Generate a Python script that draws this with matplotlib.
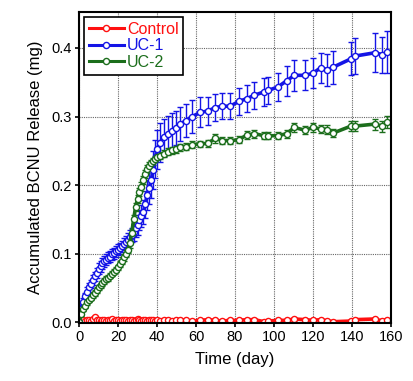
import matplotlib
matplotlib.use("Agg")
import matplotlib.pyplot as plt
from matplotlib.lines import Line2D

plt.rcParams['font.family'] = ['Liberation Sans', 'DejaVu Sans']

# sampling times (day)
days = [0, 1, 2, 3, 4, 5, 6, 7, 8, 9, 10, 11, 12, 13, 14, 15, 16, 17, 18, 19,
        20, 21, 22, 23, 24, 25, 26, 27, 28, 29, 30, 31, 32, 33, 34, 35, 36, 37,
        38, 39, 40, 41.5, 43.5, 45.5, 47.5, 49.6, 52, 54.7, 58, 62.3, 66, 70,
        73.5, 77.5, 82, 86, 90, 95, 97, 102, 106.5, 110.5, 116, 120, 124, 127.5,
        130.5, 139.5, 141.5, 152, 155.5, 158]

control = [0.0, 0.002, 0.003, 0.002, 0.004, 0.003, 0.002, 0.005, 0.008, 0.004,
           0.003, 0.002, 0.004, 0.003, 0.002, 0.004, 0.003, 0.005, 0.002, 0.003,
           0.004, 0.002, 0.003, 0.004, 0.003, 0.002, 0.004, 0.003, 0.002, 0.004,
           0.005, 0.003, 0.002, 0.003, 0.004, 0.002, 0.003, 0.004, 0.003, 0.002,
           0.003, 0.002, 0.004, 0.003, 0.002, 0.003, 0.004, 0.003, 0.002, 0.003,
           0.004, 0.003, 0.002, 0.003, 0.003, 0.004, 0.004, 0.001, 0.002, 0.003,
           0.003, 0.005, 0.004, 0.003, 0.004, 0.002, 0.001, 0.002, 0.004, 0.005,
           0.002, 0.004]
control_err = [0.001] * len(days)

uc1 = [0.0, 0.02, 0.03, 0.038, 0.045, 0.051, 0.056, 0.062, 0.067, 0.072,
       0.078, 0.082, 0.086, 0.089, 0.091, 0.094, 0.096, 0.099, 0.101, 0.104,
       0.106, 0.108, 0.111, 0.114, 0.117, 0.120, 0.124, 0.127, 0.131, 0.137,
       0.142, 0.149, 0.155, 0.161, 0.172, 0.186, 0.196, 0.207, 0.222, 0.238,
       0.252, 0.262, 0.270, 0.275, 0.279, 0.283, 0.289, 0.294, 0.300, 0.306,
       0.308, 0.313, 0.315, 0.315, 0.322, 0.326, 0.331, 0.336, 0.338, 0.343,
       0.352, 0.360, 0.360, 0.363, 0.371, 0.368, 0.372, 0.384, 0.388, 0.393,
       0.390, 0.394]
uc1_err = [0.002, 0.004, 0.005, 0.005, 0.006, 0.006, 0.006, 0.007, 0.007, 0.007,
           0.008, 0.008, 0.008, 0.008, 0.008, 0.008, 0.008, 0.008, 0.008, 0.008,
           0.008, 0.008, 0.008, 0.009, 0.009, 0.010, 0.010, 0.010, 0.012, 0.012,
           0.014, 0.015, 0.016, 0.018, 0.020, 0.022, 0.024, 0.026, 0.028, 0.028,
           0.028, 0.028, 0.027, 0.026, 0.026, 0.025, 0.025, 0.024, 0.024, 0.022,
           0.020, 0.020, 0.019, 0.019, 0.020, 0.020, 0.020, 0.020, 0.020, 0.021,
           0.022, 0.023, 0.022, 0.022, 0.022, 0.023, 0.024, 0.024, 0.026, 0.028,
           0.026, 0.030]

uc2 = [0.0, 0.012, 0.019, 0.024, 0.029, 0.033, 0.036, 0.040, 0.043, 0.047,
       0.051, 0.054, 0.057, 0.060, 0.063, 0.065, 0.068, 0.071, 0.074, 0.077,
       0.080, 0.085, 0.090, 0.095, 0.100, 0.106, 0.115, 0.130, 0.150, 0.168,
       0.180, 0.190, 0.198, 0.208, 0.216, 0.223, 0.228, 0.232, 0.235, 0.238,
       0.241, 0.243, 0.246, 0.249, 0.251, 0.252, 0.255, 0.256, 0.259, 0.260,
       0.261, 0.268, 0.265, 0.265, 0.266, 0.273, 0.275, 0.272, 0.272, 0.272,
       0.275, 0.284, 0.280, 0.284, 0.282, 0.281, 0.276, 0.286, 0.286, 0.289,
       0.286, 0.292]
uc2_err = [0.002, 0.003, 0.003, 0.003, 0.003, 0.003, 0.003, 0.004, 0.004, 0.004,
           0.004, 0.004, 0.004, 0.004, 0.004, 0.004, 0.004, 0.004, 0.004, 0.004,
           0.004, 0.005, 0.005, 0.005, 0.005, 0.005, 0.006, 0.006, 0.006, 0.006,
           0.006, 0.006, 0.006, 0.006, 0.006, 0.006, 0.006, 0.005, 0.005, 0.005,
           0.005, 0.005, 0.005, 0.005, 0.005, 0.005, 0.005, 0.005, 0.005, 0.005,
           0.005, 0.006, 0.005, 0.005, 0.005, 0.006, 0.006, 0.005, 0.005, 0.005,
           0.006, 0.006, 0.006, 0.006, 0.006, 0.006, 0.006, 0.007, 0.007, 0.008,
           0.008, 0.009]

series = [
    ("Control", control, control_err, "#ff1010"),
    ("UC-1", uc1, uc1_err, "#1414e6"),
    ("UC-2", uc2, uc2_err, "#1c6e1c"),
]

fig = plt.figure(figsize=(4.14, 3.81), dpi=100)
ax = fig.add_axes([0.191, 0.152, 0.753, 0.816])

handles = []
for name, vals, err, color in series:
    ax.errorbar(days, vals, yerr=err, color=color, lw=2.6, ecolor=color,
                elinewidth=1.0, capsize=2, capthick=1.0,
                marker="o", ms=4.4, mfc="white", mec=color, mew=1.0,
                zorder=3)
    handles.append(Line2D([], [], color=color, lw=2.2, marker="o", ms=4.4,
                          mfc="white", mec=color, mew=1.0, label=name))

ax.set_xlim(0, 160)
ax.set_ylim(-0.001, 0.452)
ax.set_xticks(range(0, 161, 20))
ax.set_yticks([0.0, 0.1, 0.2, 0.3, 0.4])
ax.set_yticklabels(["0.0", "0.1", "0.2", "0.3", "0.4"])
ax.grid(True, color="#666666", linestyle=(0, (1, 1)), linewidth=0.8)
ax.set_axisbelow(True)
for sp in ax.spines.values():
    sp.set_linewidth(1.5)
    sp.set_zorder(4)
ax.tick_params(direction="out", length=3, width=1.2, labelsize=10.5, pad=2)

ax.set_xlabel("Time (day)", fontsize=12, labelpad=6)
ax.set_ylabel("Accumulated BCNU Release (mg)", fontsize=12, labelpad=6)

leg = ax.legend(handles=handles, loc="upper left", fontsize=11.5, frameon=True,
                fancybox=False, edgecolor="black", handlelength=2.2,
                handletextpad=0.2, borderpad=0.3, labelspacing=0.1,
                borderaxespad=0.3, framealpha=1)
leg.get_frame().set_linewidth(1.2)
for text, (_, _, _, color) in zip(leg.get_texts(), series):
    text.set_color(color)

fig.savefig("out.png", dpi=100)
